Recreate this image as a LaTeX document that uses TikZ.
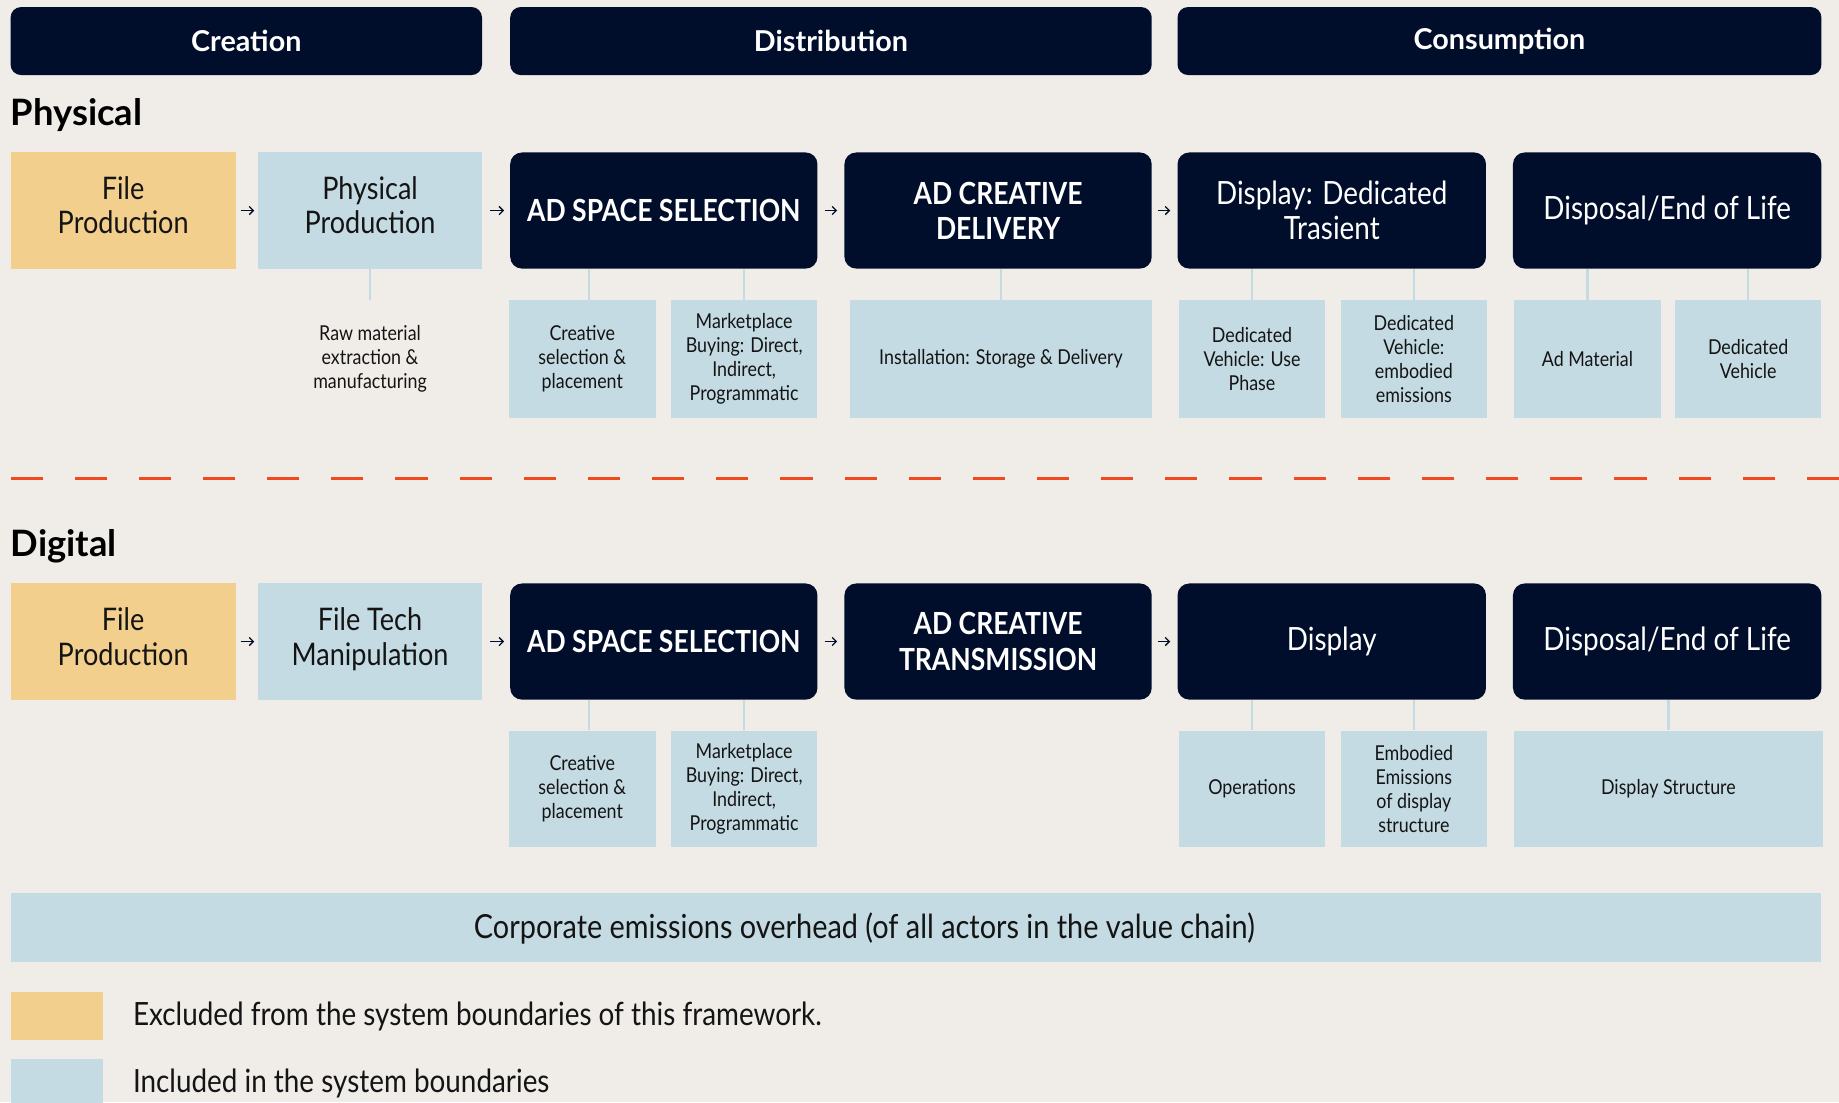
\documentclass[tikz,border=0pt]{standalone}
\usepackage{fontspec}
\setmainfont{Lato}[FakeStretch=0.87]
\newfontfamily\headface{Lato}
\usetikzlibrary{arrows.meta}
\definecolor{paper}{HTML}{F0EDE8}
\definecolor{navy}{HTML}{000D2B}
\definecolor{skyfill}{HTML}{C4DBE3}
\definecolor{sandfill}{HTML}{F2CF8C}
\definecolor{cutred}{HTML}{F24A1E}
\definecolor{ink}{HTML}{141414}

\begin{document}
\begin{tikzpicture}[x=1pt,y=-1pt,
    phase/.style={fill=navy, rounded corners=9pt, minimum height=58pt, inner sep=0pt, text=white, font=\headface\bfseries\fontsize{24.5}{30}\selectfont},
    stage/.style={fill=navy, rounded corners=10pt, minimum width=262pt, minimum height=99pt, inner sep=0pt, align=center, text=white, font=\fontsize{27.3}{30}\selectfont},
    adstage/.style={stage, font=\fontsize{26}{30}\selectfont\bfseries},
    outbox/.style={fill=sandfill, minimum width=192pt, minimum height=99pt, inner sep=0pt, align=center, text height=50pt, text depth=10pt, text=ink, font=\fontsize{26.5}{29.5}\selectfont},
    inbox/.style={outbox, fill=skyfill},
    subbox/.style={fill=skyfill, minimum width=125pt, minimum height=100pt, inner sep=0pt, align=center, text=ink, font=\fontsize{17.5}{20.5}\selectfont},
    link/.style={draw=skyfill, line width=2pt},
    flow/.style={draw=navy, line width=1.1pt, -{Straight Barb[length=3.5pt,width=7pt]}},
    heading/.style={anchor=west, inner sep=0pt, font=\headface\bfseries\fontsize{31}{36}\selectfont},
    keytext/.style={anchor=west, inner sep=0pt, text=ink, font=\fontsize{27.3}{30}\selectfont},
  ]
  \useasboundingbox (0,0) rectangle (1568,940);
  \fill[paper] (0,0) rectangle (1568,940);

  % life cycle phases
  \node[phase, minimum width=402pt] (creation) at (210,35) {Creation};
  \node[phase, minimum width=547pt] (distribution) at (708.5,35) {Distribution};
  \node[phase, minimum width=549pt] (consumption) at (1278.5,35) {Consumption};

  % physical chain
  \node[heading] (physical) at (9,98) {Physical};
  \node[outbox] (fp1) at (105,179.5) {File\\Production};
  \node[inbox, minimum width=191pt] (pp1) at (315.5,179.5) {Physical\\Production};
  \node[adstage] (as1) at (566,179.5) {AD SPACE SELECTION};
  \node[adstage] (ac1) at (851,179.5) {AD CREATIVE\\DELIVERY};
  \node[stage, minimum width=263pt] (dd1) at (1135.5,179.5) {Display: Dedicated\\Trasient};
  \node[stage, minimum width=263pt] (de1) at (1421.5,179.5) {Disposal/End of Life};

  \node[align=center, inner sep=0pt, text=ink, font=\fontsize{17.5}{20.5}\selectfont] (raw1) at (315.5,306) {Raw material\\extraction \&\\manufacturing};
  \node[subbox] (cs1) at (496.5,306) {Creative\\selection \&\\placement};
  \node[subbox] (mk1) at (634.5,306) {Marketplace\\Buying: Direct,\\Indirect,\\Programmatic};
  \node[subbox, minimum width=257pt] (inst1) at (853.5,306) {Installation: Storage \& Delivery};
  \node[subbox] (dv1) at (1067.5,306) {Dedicated\\Vehicle: Use\\Phase};
  \node[subbox] (dv2) at (1205.5,306) {Dedicated\\Vehicle:\\embodied\\emissions};
  \node[subbox] (am1) at (1353.5,306) {Ad Material};
  \node[subbox] (dv3) at (1490.5,306) {Dedicated\\Vehicle};

  \draw[link] (pp1.south) -- (pp1.south |- cs1.north);
  \draw[link] ([xshift=5.5pt]cs1.north) -- ([xshift=5.5pt]cs1.north |- as1.south); % sits a little right of centre
  \foreach \top/\sub in {as1/mk1, ac1/inst1, dd1/dv1, dd1/dv2, de1/am1, de1/dv3}
    \draw[link] (\sub.north) -- (\sub.north |- \top.south);

  \draw[flow] ([xshift=4pt]fp1.east) -- ([xshift=-3pt]pp1.west);
  \draw[flow] ([xshift=7pt]pp1.east) -- ([xshift=-5pt]as1.west);
  \draw[flow] ([xshift=6pt]as1.east) -- ([xshift=-6pt]ac1.west);
  \draw[flow] ([xshift=5pt]ac1.east) -- ([xshift=-6pt]dd1.west);

  % boundary between the two chains
  \draw[cutred, line width=3pt, dash pattern=on 27.4pt off 27.3pt] (9,408) -- (1568,408);

  % digital chain
  \node[heading] (digital) at (9,466) {Digital};
  \node[outbox] (fp2) at (105,547) {File\\Production};
  \node[inbox, minimum width=191pt] (ft2) at (315.5,547) {File Tech\\Manipulation};
  \node[adstage] (as2) at (566,547) {AD SPACE SELECTION};
  \node[adstage] (ac2) at (851,547) {AD CREATIVE\\TRANSMISSION};
  \node[stage, minimum width=263pt] (dp2) at (1135.5,547) {Display};
  \node[stage, minimum width=263pt] (de2) at (1421.5,547) {Disposal/End of Life};

  \node[subbox, minimum height=99pt] (cs2) at (496.5,672.5) {Creative\\selection \&\\placement};
  \node[subbox, minimum height=99pt] (mk2) at (634.5,672.5) {Marketplace\\Buying: Direct,\\Indirect,\\Programmatic};
  \node[subbox, minimum height=99pt] (op2) at (1067.5,672.5) {Operations};
  \node[subbox, minimum height=99pt] (em2) at (1205.5,672.5) {Embodied\\Emissions\\of display\\structure};
  \node[subbox, minimum height=99pt, minimum width=263pt] (ds2) at (1422.5,672.5) {Display Structure};

  \draw[link] ([xshift=5.5pt]cs2.north) -- ([xshift=5.5pt]cs2.north |- as2.south);
  \foreach \top/\sub in {as2/mk2, dp2/op2, dp2/em2, de2/ds2}
    \draw[link] (\sub.north) -- (\sub.north |- \top.south);

  \draw[flow] ([xshift=4pt]fp2.east) -- ([xshift=-3pt]ft2.west);
  \draw[flow] ([xshift=7pt]ft2.east) -- ([xshift=-5pt]as2.west);
  \draw[flow] ([xshift=6pt]as2.east) -- ([xshift=-6pt]ac2.west);
  \draw[flow] ([xshift=5pt]ac2.east) -- ([xshift=-6pt]dp2.west);

  % overhead bar
  \node[fill=skyfill, minimum width=1544pt, minimum height=59pt, inner sep=0pt] (corp) at (781,790.5) {};
  \node[inner sep=0pt, text=ink, font=\fontsize{28.3}{30}\selectfont] (corptext) at (737,792) {Corporate emissions overhead (of all actors in the value chain)};

  % key
  \node[fill=sandfill, minimum width=79pt, minimum height=41pt, inner sep=0pt] (keyout) at (48.5,866.5) {};
  \node[keytext] (keyouttext) at ([xshift=25pt]keyout.east) {Excluded from the system boundaries of this framework.};
  \node[fill=skyfill, minimum width=79pt, minimum height=41pt, inner sep=0pt] (keyin) at (48.5,923.5) {};
  \node[keytext] (keyintext) at ([xshift=25pt]keyin.east) {Included in the system boundaries};
\end{tikzpicture}
\end{document}
